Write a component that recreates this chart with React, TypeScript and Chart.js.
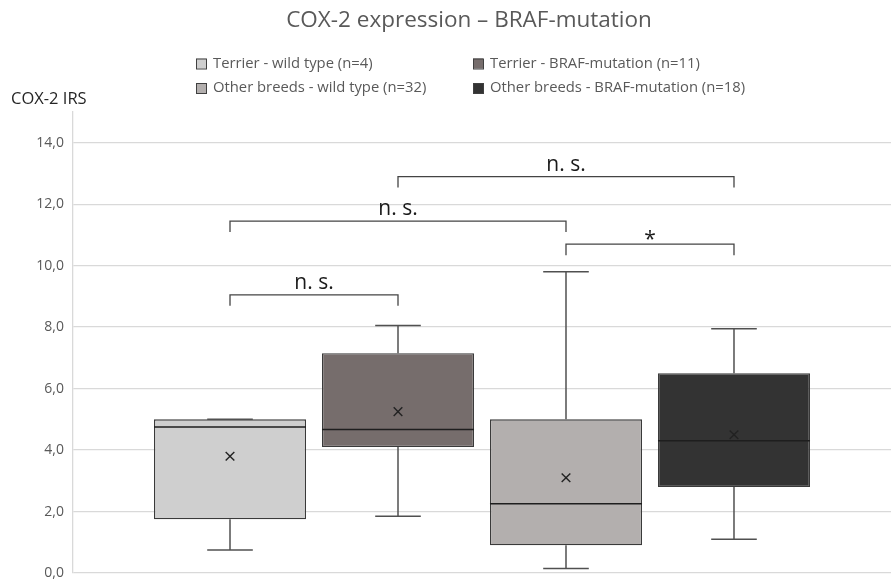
import React, { useEffect, useRef } from 'react';
import { Chart, registerables } from 'chart.js';

Chart.register(...registerables);

const TITLE = 'COX-2 expression – BRAF-mutation';
const Y_TITLE = 'COX-2 IRS';
const GROUPS = [
  'Terrier - wild type (n=4)',
  'Terrier - BRAF-mutation (n=11)',
  'Other breeds - wild type (n=32)',
  'Other breeds - BRAF-mutation (n=18)',
];
const MINS = [0.75, 1.85, 0.15, 1.1];
const Q1S = [1.75, 4.1, 0.9, 2.8];
const MEDIANS = [4.75, 4.67, 2.25, 4.3];
const Q3S = [5.0, 7.15, 5.0, 6.5];
const MAXS = [5.0, 8.05, 9.8, 7.95];
const MEANS = [3.8, 5.25, 3.1, 4.5];

const BRACKET_FROM = [0, 0, 2, 1];
const BRACKET_TO = [1, 2, 3, 3];
const BRACKET_Y = [9.05, 11.45, 10.7, 12.9];
const BRACKET_LABELS = ['n. s.', 'n. s.', '*', 'n. s.'];

const Y_MAX = 15;
const Y_STEP = 2;
const Y_LAST_TICK = 14;

const FILLS = ['#cfcfcf', '#766d6c', '#b3afae', '#333333'];
const FONT = "'Open Sans', 'Noto Sans', sans-serif";

function line(ctx: CanvasRenderingContext2D, x1: number, y1: number, x2: number, y2: number) {
  ctx.beginPath();
  ctx.moveTo(x1, y1);
  ctx.lineTo(x2, y2);
  ctx.stroke();
}

const extrasPlugin = {
  id: 'boxExtras',
  afterDatasetsDraw(chart: any) {
    const ctx: CanvasRenderingContext2D = chart.ctx;
    const ys = chart.scales.y;
    const centers: number[] = [];
    ctx.save();
    GROUPS.forEach((_, i) => {
      const bar = chart.getDatasetMeta(i).data[0];
      const cx = bar.x;
      const w = bar.width;
      centers.push(cx);
      const cap = w * 0.15;
      // whiskers
      ctx.strokeStyle = '#505050';
      ctx.lineWidth = 1.5;
      line(ctx, cx, ys.getPixelForValue(Q3S[i]), cx, ys.getPixelForValue(MAXS[i]));
      line(ctx, cx, ys.getPixelForValue(Q1S[i]), cx, ys.getPixelForValue(MINS[i]));
      line(ctx, cx - cap, ys.getPixelForValue(MAXS[i]), cx + cap, ys.getPixelForValue(MAXS[i]));
      line(ctx, cx - cap, ys.getPixelForValue(MINS[i]), cx + cap, ys.getPixelForValue(MINS[i]));
      // median
      ctx.strokeStyle = '#1e1e1e';
      ctx.lineWidth = 1.5;
      const my = ys.getPixelForValue(MEDIANS[i]);
      line(ctx, cx - w / 2, my, cx + w / 2, my);
      // mean marker (x)
      const ey = ys.getPixelForValue(MEANS[i]);
      const s = 4.3;
      ctx.strokeStyle = '#222222';
      ctx.lineWidth = 1.4;
      line(ctx, cx - s, ey - s, cx + s, ey + s);
      line(ctx, cx - s, ey + s, cx + s, ey - s);
    });

    // significance brackets
    ctx.strokeStyle = '#444444';
    ctx.lineWidth = 1.3;
    ctx.fillStyle = '#1a1a1a';
    ctx.textAlign = 'center';
    BRACKET_LABELS.forEach((label, k) => {
      const x1 = centers[BRACKET_FROM[k]];
      const x2 = centers[BRACKET_TO[k]];
      const by = ys.getPixelForValue(BRACKET_Y[k]);
      ctx.beginPath();
      ctx.moveTo(x1, by + 11);
      ctx.lineTo(x1, by);
      ctx.lineTo(x2, by);
      ctx.lineTo(x2, by + 11);
      ctx.stroke();
      ctx.font = `21px ${FONT}`;
      ctx.textBaseline = 'alphabetic';
      const off = label === '*' ? -2 : 6;
      ctx.fillText(label, (x1 + x2) / 2, by - off);
    });
    ctx.restore();
  },
  afterDraw(chart: any) {
    const ctx: CanvasRenderingContext2D = chart.ctx;
    ctx.save();
    // title
    ctx.fillStyle = '#595959';
    ctx.font = `22.5px ${FONT}`;
    ctx.textAlign = 'center';
    ctx.textBaseline = 'middle';
    ctx.fillText(TITLE, 469, 21);
    // y axis title
    ctx.fillStyle = '#262626';
    ctx.font = `16.5px ${FONT}`;
    ctx.textAlign = 'left';
    ctx.fillText(Y_TITLE, 11, 99.5);
    // legend
    const colX = [196, 473];
    const rowY = [63.5, 88];
    ctx.font = `14.8px ${FONT}`;
    GROUPS.forEach((g, i) => {
      const x = colX[i % 2];
      const y = rowY[Math.floor(i / 2)];
      ctx.fillStyle = FILLS[i];
      ctx.fillRect(x, y - 5, 10, 10);
      ctx.strokeStyle = '#404040';
      ctx.lineWidth = 1;
      ctx.strokeRect(x + 0.5, y - 4.5, 10, 10);
      ctx.fillStyle = '#595959';
      ctx.textBaseline = 'middle';
      ctx.fillText(g, x + 17, y);
    });
    ctx.restore();
  },
};

export default function App() {
  const ref = useRef<HTMLCanvasElement>(null);
  useEffect(() => {
    if (!ref.current) return;
    const chart = new Chart(ref.current, {
      type: 'bar',
      data: {
        labels: ['COX-2'],
        datasets: GROUPS.map((g, i) => ({
          label: g,
          data: [[Q1S[i], Q3S[i]]] as any,
          backgroundColor: FILLS[i],
          borderColor: '#3a3a3a',
          borderWidth: 1.3,
          borderSkipped: false,
          categoryPercentage: 0.8215,
          barPercentage: 0.905,
        })),
      },
      options: {
        responsive: false,
        animation: false,
        devicePixelRatio: 1,
        layout: { padding: { top: 112, left: 0, right: 0, bottom: 8 } },
        plugins: {
          legend: { display: false },
          title: { display: false },
          tooltip: { enabled: false },
        },
        scales: {
          x: { type: 'category', display: false, grid: { display: false } },
          y: {
            min: 0,
            max: Y_MAX,
            afterBuildTicks: (scale: any) => {
              scale.ticks = scale.ticks.filter((t: any) => t.value <= Y_LAST_TICK);
            },
            afterFit: (scale: any) => {
              scale.width = 73;
              scale.paddingTop = 0;
              scale.paddingBottom = 0;
            },
            ticks: {
              stepSize: Y_STEP,
              padding: 9,
              color: '#595959',
              font: { family: FONT, size: 14 },
              callback: (v: any) => Number(v).toFixed(1).replace('.', ','),
            },
            grid: { color: '#d9d9d9', lineWidth: 1.3, drawTicks: false },
            border: { display: true, color: '#d9d9d9', width: 1.3 },
          },
        },
      },
      plugins: [extrasPlugin],
    });
    return () => chart.destroy();
  }, []);
  return (
    <div style={{ position: 'absolute', left: 0, top: 0, width: 891, height: 581, background: '#fff' }}>
      <canvas ref={ref} width={891} height={581} />
    </div>
  );
}
